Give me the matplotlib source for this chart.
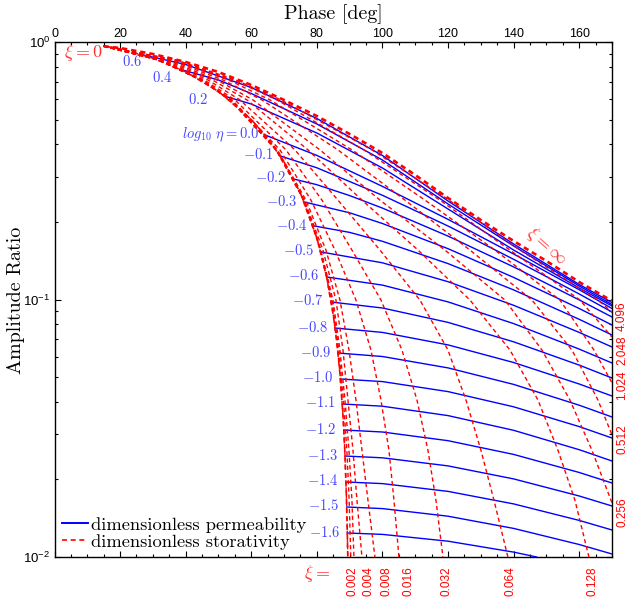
import matplotlib
matplotlib.use("Agg")
import matplotlib.pyplot as plt
from matplotlib.lines import Line2D
from matplotlib.ticker import MultipleLocator, LogLocator, NullFormatter
import numpy as np

plt.rcParams['font.family'] = ['Liberation Sans', 'DejaVu Sans']
plt.rcParams['mathtext.fontset'] = 'cm'

# ---- data (phase in deg, log10 of amplitude ratio) ----
xi0_phase = [15, 20, 30, 40, 50, 60, 65, 70, 75, 80, 83, 85, 86, 87, 88, 88.5, 89, 89.3, 89.43]
xi0_logamp = [-0.015, -0.027, -0.0625, -0.1157, -0.1919, -0.301, -0.374, -0.4659, -0.587,
              -0.7604, -0.9141, -1.0597, -1.1564, -1.2812, -1.4572, -1.582, -1.7581, -1.913, -2.002]

xiinf_phase = [15, 20, 30, 40, 50, 60, 70, 80, 90, 100, 110, 120, 130, 140, 150, 160, 170]
xiinf_logamp = [-0.0167, -0.0233, -0.0466, -0.0777, -0.1165, -0.167, -0.2252, -0.2874, -0.3573,
                -0.4311, -0.5165, -0.6058, -0.6913, -0.7728, -0.8505, -0.932, -1.0058]

eta_labels = ['0.6', '0.4', '0.2', '0.0', '-0.1', '-0.2', '-0.3', '-0.4', '-0.5', '-0.6', '-0.7',
              '-0.8', '-0.9', '-1.0', '-1.1', '-1.2', '-1.3', '-1.4', '-1.5', '-1.6']
blue_phase = [
    [26.6, 40, 60, 80, 100, 120, 140, 160, 170],
    [38.5, 50, 60, 80, 100, 120, 140, 160, 170],
    [51.7, 60, 80, 100, 120, 140, 160, 170],
    [64.2, 80, 100, 120, 140, 160, 170],
    [68.9, 80, 100, 120, 140, 160, 170],
    [72.9, 80, 90, 100, 120, 140, 160, 170],
    [76.2, 90, 100, 120, 140, 160, 170],
    [79.3, 90, 100, 120, 140, 160, 170],
    [81.3, 100, 120, 140, 160, 170],
    [83.0, 100, 120, 140, 160, 170],
    [84.3, 100, 120, 140, 160, 170],
    [85.5, 100, 120, 140, 160, 170],
    [86.4, 100, 120, 140, 160, 170],
    [87.2, 100, 120, 140, 160, 170],
    [87.8, 100, 120, 140, 160, 170],
    [88.2, 100, 120, 140, 160, 170],
    [88.6, 100, 120, 140, 160, 170],
    [88.9, 100, 120, 140, 160, 170],
    [89.1, 100, 120, 140, 160, 170],
    [89.3, 100, 120, 140, 147],
]
blue_logamp = [
    [-0.0489, -0.0874, -0.1767, -0.2971, -0.4408, -0.6175, -0.7845, -0.9417, -1.0117],
    [-0.1068, -0.1476, -0.2, -0.3184, -0.4583, -0.6291, -0.7922, -0.9476, -1.0194],
    [-0.2097, -0.2408, -0.3534, -0.4893, -0.6485, -0.8078, -0.9553, -1.0252],
    [-0.3612, -0.4404, -0.5608, -0.6889, -0.8233, -0.962, -1.035],
    [-0.4427, -0.4885, -0.5953, -0.7146, -0.8439, -0.9786, -1.0485],
    [-0.532, -0.5542, -0.5965, -0.645, -0.7538, -0.8734, -1.0016, -1.068],
    [-0.6214, -0.6633, -0.7049, -0.8027, -0.9142, -1.035, -1.099],
    [-0.7146, -0.7394, -0.774, -0.8606, -0.9627, -1.0769, -1.1379],
    [-0.8155, -0.8575, -0.9309, -1.0225, -1.1278, -1.1845],
    [-0.9126, -0.9441, -1.0093, -1.0936, -1.1926, -1.2466],
    [-1.0097, -1.033, -1.0889, -1.1643, -1.2548, -1.3049],
    [-1.1107, -1.1278, -1.1763, -1.2447, -1.3282, -1.3748],
    [-1.2078, -1.2214, -1.2656, -1.3297, -1.4105, -1.4563],
    [-1.3087, -1.3188, -1.3577, -1.4167, -1.4936, -1.5379],
    [-1.4058, -1.4144, -1.4509, -1.508, -1.5833, -1.6272],
    [-1.5068, -1.5146, -1.5483, -1.6016, -1.6718, -1.7126],
    [-1.6078, -1.6148, -1.6462, -1.6967, -1.7631, -1.8019],
    [-1.7087, -1.715, -1.7452, -1.7938, -1.8579, -1.8951],
    [-1.8058, -1.812, -1.8416, -1.889, -1.9515, -1.9883],
    [-1.9068, -1.9122, -1.9386, -1.981, -2.0],
]

xi_labels = ['0.001', '0.002', '0.004', '0.008', '0.016', '0.032', '0.064', '0.128',
             '0.256', '0.512', '1.024', '2.048', '4.096']
rows = [-0.016, -0.070, -0.148, -0.225, -0.419, -0.614, -0.808, -1.002, -1.196, -1.390, -1.585, -1.779, -2.0]
red_phase = [
    [15, 31.7, 44.7, 53.55, 67.6, 76.0, 81.1, 84.6, 86.7, 88.1, 89.15, 89.85, 90.35],
    [15, 31.74, 44.73, 53.6, 67.62, 76.07, 81.25, 84.91, 87.04, 88.57, 89.79, 90.70, 91.31],
    [15, 31.77, 44.79, 53.66, 67.68, 76.22, 81.86, 85.82, 87.96, 89.48, 91.01, 92.23, 93.75],
    [15, 31.83, 44.91, 53.81, 67.99, 76.68, 82.77, 87.04, 89.79, 91.92, 93.75, 95.58, 97.71],
    [15, 31.95, 45.12, 54.12, 68.75, 78.2, 85.52, 91.92, 96.49, 99.54, 101.98, 103.51, 105.03],
    [15, 32.23, 45.7, 55.03, 70.58, 81.55, 90.70, 99.54, 105.95, 110.52, 113.87, 116.31, 118.45],
    [15, 32.8, 46.86, 56.55, 73.32, 86.43, 99.24, 111.43, 119.97, 125.46, 130.03, 133.99, 138.26],
    [15, 33.51, 48.23, 58.69, 77.29, 93.75, 110.84, 126.68, 138.87, 147.41, 153.51, 158.69, 162.96],
    [15, 34.21, 49.63, 60.52, 80.95, 99.24, 119.05, 137.35, 148.63, 157.16, 163.87, 170],
    [15, 35.12, 51.46, 63.26, 86.43, 106.86, 126.68, 145.58, 157.77, 165.7, 170],
    [15, 36.0, 53.14, 65.7, 90.7, 112.96, 134.3, 154.12, 164.48, 170],
    [15, 36.74, 54.63, 67.84, 94.36, 117.53, 138.87, 160.21, 170],
    [15, 37.16, 55.43, 69.05, 96.8, 120.27, 141.92, 165.7, 170],
]
red_logamp = [
    rows, rows, rows, rows, rows, rows, rows, rows,
    rows[:11] + [-1.790],
    rows[:10] + [-1.526],
    rows[:9] + [-1.324],
    rows[:8] + [-1.146],
    rows[:8] + [-1.049],
]

# label placement (pixel offsets from curve start)
blue_label_off = [(0, -7), (-8, -8), (-16, -4), (-5, 0)] + [(-7, 1)] * 16
bottom_xi = ['0.002', '0.004', '0.008', '0.016', '0.032', '0.064', '0.128']
bottom_x = [352, 369, 387, 408, 447, 511, 592]
right_xi = ['0.256', '0.512', '1.024', '2.048', '4.096']
right_y = [512, 439, 385, 350, 316]

BLUE = '#0000ff'
RED = '#ff0000'
LBLUE = '#4646ff'
LRED = '#ff3030'
W, H = 630, 604

fig = plt.figure(figsize=(W / 100, H / 100), dpi=100)
ax = fig.add_axes([54.5 / W, 1 - 557 / H, (612 - 54.5) / W, (557 - 42) / H])
ax.set_yscale('log')
ax.set_xlim(0, 170)
ax.set_ylim(0.01, 1)

dash = (0, (3, 2.2))
for ph, la in zip(blue_phase, blue_logamp):
    ax.plot(ph, 10 ** np.array(la), color=BLUE, lw=1.0, zorder=3)
for ph, la in zip(red_phase, red_logamp):
    ax.plot(ph, 10 ** np.array(la), color=RED, lw=1.0, ls=dash, zorder=4)
# xi = 0 envelope: two offset dash trains so the upper part reads as a jagged solid line
ax.plot(xi0_phase, 10 ** np.array(xi0_logamp), color=RED, lw=1.2, ls=(2.6, (3, 2.2)), zorder=4)
ax.plot(xi0_phase, 10 ** np.array(xi0_logamp), color=RED, lw=1.0, ls=dash, zorder=4)
ax.plot(xiinf_phase, 10 ** np.array(xiinf_logamp), color=RED, lw=1.9, ls=(0, (2.0, 1.5)), zorder=4)

for lab, ph, la, off in zip(eta_labels, blue_phase, blue_logamp, blue_label_off):
    txt = r'$log_{10}\ \eta = 0.0$' if lab == '0.0' else r'$%s$' % lab
    ax.annotate(txt, xy=(ph[0], 10 ** la[0]), xytext=off, textcoords='offset pixels',
                ha='right', va='center', color=LBLUE, fontsize=10.5)

ax.text(8.7, 0.914, r'$\xi = 0$', color=LRED, fontsize=13, ha='center', va='center')
ax.text(150, 0.161, r'$\xi = \infty$', color=LRED, fontsize=13, ha='center', va='center',
        rotation=-42)
fig.text(317 / W, 1 - 574 / H, r'$\xi =$', color=LRED, fontsize=13, ha='center', va='center')
for lab, x in zip(bottom_xi, bottom_x):
    fig.text(x / W, 1 - 566 / H, lab, color=RED, fontsize=8.5, rotation=90,
             ha='center', va='top')
for lab, y in zip(right_xi, right_y):
    fig.text(622 / W, 1 - y / H, lab, color=RED, fontsize=8.5, rotation=90,
             ha='center', va='center')

# axes, ticks
ax.xaxis.set_major_locator(MultipleLocator(20))
ax.xaxis.set_minor_locator(MultipleLocator(5))
ax.yaxis.set_major_locator(LogLocator(base=10))
ax.yaxis.set_minor_locator(LogLocator(base=10, subs=np.arange(2, 10)))
ax.yaxis.set_minor_formatter(NullFormatter())
ax.tick_params(axis='x', which='both', direction='in', top=True, bottom=True,
               labeltop=True, labelbottom=False, labelsize=9, pad=1.5)
ax.tick_params(axis='y', which='both', direction='in', left=True, right=True,
               labelsize=9.5, pad=3)
ax.tick_params(which='major', length=4, width=0.8)
ax.tick_params(which='minor', length=2.5, width=0.8)
for s in ax.spines.values():
    s.set_linewidth(1.0)

fig.text((54.5 + 612) / 2 / W, 1 - 14 / H, 'Phase [deg]', family='cmr10', fontsize=14.4,
         ha='center', va='center')
fig.text(16 / W, 1 - 300 / H, 'Amplitude Ratio', family='cmr10', fontsize=14.4,
         ha='center', va='center', rotation=90)

handles = [Line2D([], [], color=BLUE, lw=1.4), Line2D([], [], color=RED, lw=1.2, ls=dash)]
ax.legend(handles, ['dimensionless permeability', 'dimensionless storativity'],
          loc='lower left', frameon=False, prop={'family': 'cmr10', 'size': 13.3},
          handlelength=1.4, handletextpad=0.2, labelspacing=0.05,
          borderaxespad=0.1, borderpad=0.3)

fig.savefig('out.png', dpi=100)
